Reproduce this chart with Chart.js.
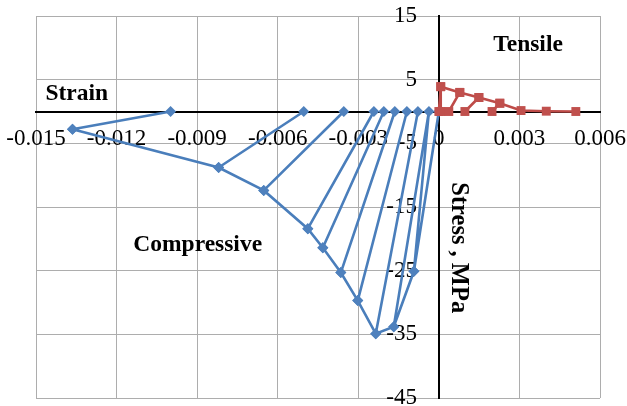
<!DOCTYPE html>
<html lang="en">
<head>
    <meta charset="UTF-8">
    <title>Stress - Strain</title>
    <script src="https://cdn.jsdelivr.net/npm/chart.js"></script>
    <style>
        body { margin: 0; background: #fff; }
    </style>
</head>
<body>
    <canvas id="stressChart" width="627" height="406"></canvas>
    <script>
    // compressive envelope (from origin outwards), strain / stress MPa
    const compStrain = [0, -0.00093, -0.00168, -0.00235, -0.00302, -0.00365, -0.00432, -0.00488, -0.00652, -0.0082, -0.01364];
    const compStress = [0, -25.1, -33.8, -34.9, -29.7, -25.3, -21.4, -18.4, -12.4, -8.8, -2.8];
    // residual strain after unloading from envelope points 2..10
    const compResidual = [-0.00037, -0.00078, -0.00119, -0.00164, -0.00205, -0.00242, -0.00354, -0.00503, -0.00999];

    // tensile envelope
    const tensStrain = [0, 0.00007, 0.00078, 0.00149, 0.00227, 0.00306, 0.0040, 0.0051];
    const tensStress = [0, 3.9, 3.0, 2.2, 1.3, 0.15, 0.05, 0];
    // residual strain after unloading from envelope points 1..4
    const tensResidual = [0.00007, 0.00037, 0.00097, 0.00198];

    const xTicks = { min: -0.015, max: 0.006, step: 0.003 };
    const yTicks = { min: -45, max: 15, step: 10 };

    // build the point lists, null breaks the line
    const gap = { x: null, y: null };
    const compData = compStrain.map((s, i) => ({ x: s, y: compStress[i] }));
    compResidual.forEach((r, i) => {
        compData.push(gap, { x: compStrain[i + 2], y: compStress[i + 2] }, { x: r, y: 0 });
        if (i === 0) compData.push({ x: compStrain[1], y: compStress[1] });
    });
    const tensData = tensStrain.map((s, i) => ({ x: s, y: tensStress[i] }));
    tensResidual.forEach((r, i) => {
        tensData.push(gap, { x: tensStrain[i + 1], y: tensStress[i + 1] }, { x: r, y: 0 });
    });

    // free text on the plot
    const textPlugin = {
        id: 'notes',
        afterDraw(chart) {
            const { ctx, scales: { x, y } } = chart;
            ctx.save();
            ctx.fillStyle = '#000';
            ctx.font = 'bold 23.5px "Liberation Serif", "Times New Roman", serif';
            ctx.textBaseline = 'middle';
            ctx.textAlign = 'left';
            ctx.fillText('Strain', x.getPixelForValue(-0.01465), y.getPixelForValue(2.8));
            ctx.textAlign = 'center';
            ctx.fillText('Tensile', x.getPixelForValue(0.00332), y.getPixelForValue(10.5));
            ctx.fillText('Compressive', x.getPixelForValue(-0.00898), y.getPixelForValue(-21));
            ctx.font = 'bold 24.5px "Liberation Serif", "Times New Roman", serif';
            ctx.translate(x.getPixelForValue(0.00071), y.getPixelForValue(-21.4));
            ctx.rotate(Math.PI / 2);
            ctx.fillText('Stress , MPa', 0, 0);
            ctx.restore();
        }
    };

    // axes sit inside the plot, so they should not push the chart area in
    const noOverhang = scale => {
        scale.paddingLeft = 0;
        scale.paddingRight = 0;
        scale.paddingTop = 0;
        scale.paddingBottom = 0;
    };

    const tickFont = { family: '"Liberation Serif", "Times New Roman", serif', size: 23 };

    const ctx = document.getElementById('stressChart').getContext('2d');
    const stressChart = new Chart(ctx, {
        type: 'scatter',
        data: {
            datasets: [{
                label: 'Tensile',
                data: tensData,
                showLine: true,
                borderColor: '#be4b48',
                backgroundColor: '#c0504d',
                borderWidth: 2.6,
                pointStyle: 'rect',
                pointRadius: 6.3,
                pointBorderWidth: 0
            }, {
                label: 'Compressive',
                data: compData,
                showLine: true,
                borderColor: '#4a7ebb',
                backgroundColor: '#4f81bd',
                borderWidth: 2.6,
                pointStyle: 'rectRot',
                pointRadius: 5.5,
                pointBorderWidth: 0
            }]
        },
        options: {
            responsive: false,
            animation: false,
            spanGaps: false,
            layout: { padding: { left: 36, right: 27, top: 16, bottom: 8 } },
            plugins: { legend: { display: false }, tooltip: { enabled: false } },
            scales: {
                x: {
                    type: 'linear',
                    position: { y: 0 },
                    min: xTicks.min,
                    max: xTicks.max,
                    afterFit: noOverhang,
                    ticks: {
                        stepSize: xTicks.step,
                        color: '#000',
                        font: tickFont,
                        padding: 0,
                        maxRotation: 0,
                        autoSkip: false,
                        callback: v => {
                            const r = Math.round(v * 1000) / 1000;
                            return r === 0 ? '0' : String(r);
                        }
                    },
                    grid: { color: '#adadad', lineWidth: 1, drawTicks: true, tickLength: 14, tickColor: 'rgba(0,0,0,0)' },
                    border: { color: '#000', width: 2 }
                },
                y: {
                    type: 'linear',
                    position: { x: 0 },
                    min: yTicks.min,
                    max: yTicks.max,
                    afterFit: noOverhang,
                    ticks: {
                        stepSize: yTicks.step,
                        color: '#000',
                        font: tickFont,
                        padding: 0,
                        autoSkip: false,
                        // labels are right aligned on the axis line, keep a gap
                        callback: v => v + '   \u2009'
                    },
                    grid: { color: '#adadad', lineWidth: 1, drawTicks: false },
                    border: { color: '#000', width: 2 }
                }
            }
        },
        plugins: [textPlugin]
    });
    </script>
</body>
</html>
